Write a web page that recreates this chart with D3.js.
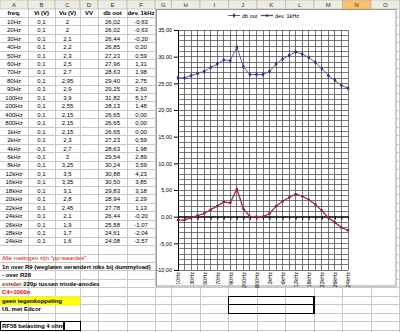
<!DOCTYPE html>
<html>
<head>
<meta charset="utf-8">
<script src="https://cdn.jsdelivr.net/npm/d3@7/dist/d3.min.js"></script>
<style>
  body { margin: 0; background: #fff; }
  svg { display: block; font-family: "Liberation Sans", Arial, sans-serif; }
</style>
</head>
<body>
<svg id="sheet" width="400" height="332"></svg>
<script>
// measurements table (columns A..F)
var freqs  = ["10Hz","20Hz","30Hz","40Hz","50Hz","60Hz","70Hz","80Hz","90Hz","100Hz","200Hz","400Hz","800Hz","1kHz","2kHz","4kHz","6kHz","8kHz","12kHz","16kHz","18kHz","20kHz","22kHz","24kHz","26kHz","28kHz","24kHz"];
var vIn    = [0.1,0.1,0.1,0.1,0.1,0.1,0.1,0.1,0.1,0.1,0.1,0.1,0.1,0.1,0.1,0.1,0.1,0.1,0.1,0.1,0.1,0.1,0.1,0.1,0.1,0.1,0.1];
var vOut   = [2,2,2.1,2.2,2.3,2.5,2.7,2.95,2.9,3.9,2.55,2.15,2.15,2.15,2.3,2.7,3,3.25,3.5,3.35,3.1,2.8,2.45,2.1,1.9,1.7,1.6];
var dbOut  = [26.02,26.02,26.44,26.85,27.23,27.96,28.63,29.40,29.25,31.82,28.13,26.65,26.65,26.65,27.23,28.63,29.54,30.24,30.88,30.50,29.83,28.94,27.78,26.44,25.58,24.61,24.08];
var dev1k  = [-0.63,-0.63,-0.20,0.20,0.59,1.31,1.98,2.75,2.60,5.17,1.48,0.00,0.00,0.00,0.59,1.98,2.89,3.59,4.23,3.85,3.18,2.29,1.13,-0.20,-1.07,-2.04,-2.57];
var headers = ["freq.","Vi (V)","Vu (V)","VV","db out","dev. 1kHz"];
var colLetters = ["A","B","C","D","E","F","G","H","I","J","K","L","M","N","O"];
var yTicks = [35,30,25,20,15,10,5,0,-5,-10];
var seriesNames = ["db out","dev. 1kHz"];

var svg = d3.select("#sheet");

// sheet geometry
var colEdges = [0,28,55,80,98,127,155,171.5,200,228.5,257,285.5,314,342.5,371,399.5];
var headH = 9, rowH = 8.45;
function rowTop(r){ return headH + (r-1)*rowH; }   // r is 1-based
function rowMid(r){ return rowTop(r) + rowH/2 + 2.1; }
var fmt2 = function(d){ return d.toFixed(2).replace(".", ","); };
var fmtN = function(d){ return String(d).replace(".", ","); };

// cell gridlines
var grid = svg.append("g").attr("shape-rendering","crispEdges");
d3.range(1, 40).forEach(function(r){
  grid.append("line").attr("x1",0).attr("x2",400)
    .attr("y1",rowTop(r)+rowH).attr("y2",rowTop(r)+rowH)
    .attr("stroke","#c8c8c8");
});
colEdges.slice(1).forEach(function(x){
  grid.append("line").attr("x1",x).attr("x2",x).attr("y1",headH).attr("y2",332)
    .attr("stroke","#c8c8c8");
});

// column header row
var hdr = svg.append("g");
colLetters.forEach(function(c, i){
  hdr.append("rect").attr("x",colEdges[i]).attr("y",0)
    .attr("width",colEdges[i+1]-colEdges[i]).attr("height",headH)
    .attr("fill", c === "N" ? "#f7c26b" : "#ecebe4")
    .attr("stroke","#b0aea0").attr("stroke-width",0.6);
  hdr.append("text").attr("x",(colEdges[i]+colEdges[i+1])/2).attr("y",7)
    .attr("text-anchor","middle").attr("font-size",6).attr("fill","#333")
    .text(c);
});

// yellow highlighted cell
svg.append("rect").attr("x",0).attr("y",rowTop(35)).attr("width",colEdges[3])
  .attr("height",rowH).attr("fill","#ffff00");

// table
var tbl = svg.append("g").attr("font-size",6).attr("fill","#000");
headers.forEach(function(h, i){
  tbl.append("text").attr("x",(colEdges[i]+colEdges[i+1])/2).attr("y",rowMid(1))
    .attr("text-anchor","middle").attr("font-weight","bold").text(h);
});
freqs.forEach(function(f, i){
  var r = i + 2;
  var cells = [f, fmtN(vIn[i]), fmtN(vOut[i]), "", fmt2(dbOut[i]), fmt2(dev1k[i])];
  cells.forEach(function(v, c){
    if (!v) return;
    tbl.append("text").attr("x",(colEdges[c]+colEdges[c+1])/2).attr("y",rowMid(r))
      .attr("text-anchor","middle").text(v);
  });
});

// notes below the table
var notes = [
  {r:30, parts:[{t:"Alle metingen zijn \"pp-waardes\"", c:"#ff0000", b:false}]},
  {r:31, parts:[{t:"1n over R9 (weglaten verandert niks bij dummyload)", c:"#000", b:true}]},
  {r:32, parts:[{t:"- over R26", c:"#000", b:true}]},
  {r:33, parts:[{t:"zonder", c:"#ff0000", b:true},{t:" 220p tussen triode-anodes", c:"#000", b:true}]},
  {r:34, parts:[{t:"C4=1000n", c:"#ff0000", b:true}]},
  {r:35, parts:[{t:"geen tegenkoppeling", c:"#000", b:true}]},
  {r:36, parts:[{t:"UL met Edcor", c:"#000", b:true}]},
  {r:38, parts:[{t:"RF58 belasting 4 ohm", c:"#000", b:true}]}
];
notes.forEach(function(n){
  var t = tbl.append("text").attr("x",2).attr("y",rowMid(n.r));
  n.parts.forEach(function(p){
    t.append("tspan").attr("fill",p.c).attr("font-weight",p.b ? "bold" : "normal")
      .attr("xml:space","preserve").text(p.t);
  });
});

// bordered cells
var bx = svg.append("g").attr("fill","none").attr("stroke","#000").attr("stroke-width",1.2)
  .attr("shape-rendering","crispEdges");
bx.append("rect").attr("x",0.5).attr("y",rowTop(38)).attr("width",colEdges[3]).attr("height",rowH);
bx.append("line").attr("x1",64).attr("x2",64).attr("y1",rowTop(38)).attr("y2",rowTop(38)+rowH);
bx.append("rect").attr("x",colEdges[9]).attr("y",rowTop(35))
  .attr("width",colEdges[12]-colEdges[9]).attr("height",rowH*2);
bx.append("line").attr("x1",colEdges[9]).attr("x2",colEdges[12])
  .attr("y1",rowTop(36)).attr("y2",rowTop(36));

// ---------- chart ----------
var chart = svg.append("g");
chart.append("rect").attr("x",156.5).attr("y",9.5).attr("width",239.5).attr("height",276.5)
  .attr("fill","#fff").attr("stroke","#9a9a9a").attr("stroke-width",1);

var idx = d3.range(freqs.length);
var x = d3.scalePoint().domain(idx).range([178, 348]);
var y = d3.scaleLinear().domain([-10, 35]).range([270, 30]);

var pg = chart.append("g").attr("shape-rendering","crispEdges");
pg.selectAll("line.h").data(d3.range(-10, 36)).enter().append("line")
  .attr("x1",178).attr("x2",348).attr("y1",function(d){ return y(d); }).attr("y2",function(d){ return y(d); })
  .attr("stroke","#555").attr("stroke-width",0.8);
pg.selectAll("line.v").data(idx).enter().append("line")
  .attr("y1",30).attr("y2",270).attr("x1",function(d){ return x(d); }).attr("x2",function(d){ return x(d); })
  .attr("stroke","#555").attr("stroke-width",0.8);

// value axis
var yAxis = chart.append("g").attr("transform","translate(178,0)")
  .call(d3.axisLeft(y).tickValues(yTicks).tickSize(4).tickPadding(2).tickFormat(fmt2));
yAxis.select(".domain").attr("stroke","#000");
yAxis.selectAll(".tick line").attr("stroke","#000");
yAxis.selectAll("text").attr("font-size",5.5).attr("font-family","Liberation Sans, Arial, sans-serif");

// category axis crossing at 0
var xAxis = chart.append("g").attr("transform","translate(0," + y(0) + ")")
  .call(d3.axisBottom(x).tickSize(3).tickSizeOuter(0).tickFormat(""));
xAxis.select(".domain").attr("stroke","#000").attr("stroke-width",1.4);
xAxis.selectAll(".tick line").attr("stroke","#000");

// category labels at bottom, every other one
var xLab = chart.append("g").attr("transform","translate(0,272)")
  .call(d3.axisBottom(x).tickValues(idx.filter(function(i){ return i % 2 === 0; }))
    .tickSize(0).tickFormat(function(i){ return freqs[i]; }));
xLab.select(".domain").remove();
xLab.selectAll("text").attr("font-size",5.5).attr("font-family","Liberation Sans, Arial, sans-serif")
  .attr("text-anchor","end").attr("transform","rotate(-90)").attr("dx",0).attr("dy","0.35em")
  .attr("y",0).attr("x",0);

// series
var colors = [{line:"#5d5da8", mark:"#2f2f86"}, {line:"#9b2b5a", mark:"#8a1c4b"}];
var lineGen = d3.line().x(function(d, i){ return x(i); }).y(function(d){ return y(d); });
var diamond = d3.symbol().type(d3.symbolDiamond).size(7);
var square = d3.symbol().type(d3.symbolSquare).size(5);

chart.append("path").datum(dbOut).attr("d",lineGen).attr("fill","none")
  .attr("stroke",colors[0].line).attr("stroke-width",1);
chart.selectAll("path.m1").data(dbOut).enter().append("path")
  .attr("d",diamond).attr("fill",colors[0].mark)
  .attr("transform",function(d, i){ return "translate(" + x(i) + "," + y(d) + ")"; });

chart.append("path").datum(dev1k).attr("d",lineGen).attr("fill","none")
  .attr("stroke",colors[1].line).attr("stroke-width",1.3);
chart.selectAll("path.m2").data(dev1k).enter().append("path")
  .attr("d",square).attr("fill",colors[1].mark)
  .attr("transform",function(d, i){ return "translate(" + x(i) + "," + y(d) + ")"; });

// legend
var leg = chart.append("g").attr("font-size",5.5);
[228, 261].forEach(function(lx, i){
  leg.append("line").attr("x1",lx).attr("x2",lx+12).attr("y1",15.5).attr("y2",15.5)
    .attr("stroke",colors[i].line).attr("stroke-width", i ? 1.3 : 1);
  leg.append("path").attr("d", i ? square : diamond).attr("fill",colors[i].mark)
    .attr("transform","translate(" + (lx+6) + ",15.5)");
  leg.append("text").attr("x",lx+14).attr("y",17.5).attr("fill","#000").text(seriesNames[i]);
});
</script>
</body>
</html>
